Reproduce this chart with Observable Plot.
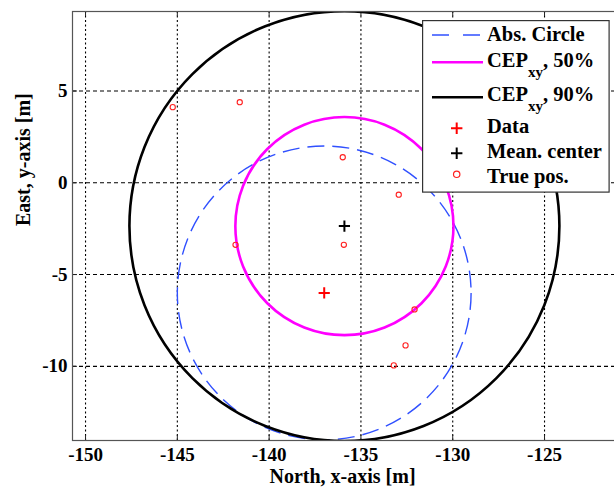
<!DOCTYPE html>
<html><head><meta charset="utf-8">
<script src="https://cdn.jsdelivr.net/npm/d3@7"></script>
<script src="https://cdn.jsdelivr.net/npm/@observablehq/plot@0.6"></script>
<style>
html,body{margin:0;padding:0;background:#fff;}
#wrap{position:relative;width:614px;height:488px;overflow:hidden;}
#legend{position:absolute;left:422px;top:20px;font-family:'Liberation Serif',serif;font-weight:bold;}
</style></head><body>
<div id="wrap"><div id="chart"></div>
<svg id="legend" width="188" height="173"></svg></div>
<script>
// ---- data ----
const xTicks = [-150, -145, -140, -135, -130, -125];
const yTicks = [-10, -5, 0, 5];
const xDomain = [-150.71, -121.08];
const yDomain = [-14.04, 9.33];

const circleNames = ["Abs. Circle", "CEP_xy, 50%", "CEP_xy, 90%"];
const circleCenterX = [-137.0, -135.9, -135.9];
const circleCenterY = [-6.0, -2.36, -2.36];
const circleRadius = [8.0, 5.94, 11.71];

const dataX = [-137.0];
const dataY = [-6.0];
const meanX = [-135.9];
const meanY = [-2.36];
const trueX = [-145.25, -141.60, -135.99, -132.94, -141.83, -135.93, -132.08, -132.57, -133.21];
const trueY = [4.12, 4.39, 1.39, -0.65, -3.38, -3.38, -6.90, -8.86, -9.95];

// ---- layout ----
const W = 614, H = 488, mL = 72, mR = -2, mT = 11, mB = 48;
const pxPerM = (W - mL - mR) / (xDomain[1] - xDomain[0]);
const tickLen = 5 / pxPerM;

const circleStyles = [
  {stroke: "#3050ff", strokeWidth: 1.4, strokeDasharray: "17,8"},
  {stroke: "#ff00ff", strokeWidth: 2.6},
  {stroke: "#000000", strokeWidth: 2.6}
];

const truePts = trueX.map((x, i) => ({x, y: trueY[i]}));
const dataPts = dataX.map((x, i) => ({x, y: dataY[i]}));
const meanPts = meanX.map((x, i) => ({x, y: meanY[i]}));

const circleMarks = circleNames.map((name, i) => Plot.dot([i], {
  x: j => circleCenterX[j], y: j => circleCenterY[j], r: j => circleRadius[j],
  fill: "none", clip: true, ...circleStyles[i]
}));

const chart = Plot.plot({
  width: W, height: H,
  marginLeft: mL, marginRight: mR, marginTop: mT, marginBottom: mB,
  style: {fontFamily: "'Liberation Serif', serif", fontSize: "19px", fontWeight: "bold", color: "#000", background: "#fff"},
  x: {domain: xDomain},
  y: {domain: yDomain},
  r: {type: "linear", domain: [0, 10], range: [0, 10 * pxPerM]},
  marks: [
    Plot.gridX(xTicks, {stroke: "#000", strokeOpacity: 1, strokeWidth: 1.1, strokeDasharray: "2,2.5"}),
    Plot.gridY(yTicks, {stroke: "#000", strokeOpacity: 1, strokeWidth: 1.1, strokeDasharray: "4,3"}),
    Plot.ruleX(xTicks, {x: d => d, y1: yDomain[0], y2: yDomain[0] + tickLen, stroke: "#222"}),
    Plot.ruleX(xTicks, {x: d => d, y1: yDomain[1] - tickLen, y2: yDomain[1], stroke: "#222"}),
    Plot.ruleY(yTicks, {y: d => d, x1: xDomain[0], x2: xDomain[0] + tickLen, stroke: "#222"}),
    ...circleMarks,
    Plot.dot(truePts, {x: "x", y: "y", r: 2.6, stroke: "#ff2020", strokeWidth: 1.1, fill: "none"}),
    Plot.dot(dataPts, {x: "x", y: "y", symbol: "plus", r: 3.7, stroke: "#ff0000", strokeWidth: 2}),
    Plot.dot(meanPts, {x: "x", y: "y", symbol: "plus", r: 3.7, stroke: "#000", strokeWidth: 2}),
    Plot.axisX({ticks: xTicks, anchor: "bottom", tickSize: 0, tickPadding: 7, tickFormat: d => String(d), label: null}),
    Plot.axisY({ticks: yTicks, anchor: "left", tickSize: 0, tickPadding: 5, tickFormat: d => String(d), label: null}),
    Plot.frame({stroke: "#555", strokeWidth: 1.2}),
    Plot.text(["North, x-axis [m]"], {text: d => d, frameAnchor: "bottom", dx: -2, dy: 42, lineAnchor: "bottom", fontSize: 20, fontWeight: "bold"}),
    Plot.text(["East, y-axis [m]"], {text: d => d, frameAnchor: "left", dx: -43, rotate: -90, lineAnchor: "bottom", fontSize: 20, fontWeight: "bold"})
  ]
});
document.getElementById("chart").appendChild(chart);

// ---- legend (inside the axes, upper right) ----
const lg = d3.select("#legend");
lg.append("rect").attr("x", 0.6).attr("y", 0.6).attr("width", 186.5).attr("height", 171.5)
  .attr("fill", "#fff").attr("stroke", "#333").attr("stroke-width", 1.2);
const rows = [
  {type: "line", y: 15, base: 21, stroke: circleStyles[0].stroke, w: 1.4, dash: "17,14", label: circleNames[0]},
  {type: "line", y: 42.3, base: 46.7, stroke: circleStyles[1].stroke, w: 2.6, label: circleNames[1]},
  {type: "line", y: 77.3, base: 80.7, stroke: circleStyles[2].stroke, w: 2.6, label: circleNames[2]},
  {type: "plus", y: 108.3, base: 113.3, stroke: "#ff0000", label: "Data"},
  {type: "plus", y: 133.3, base: 138.3, stroke: "#000", label: "Mean. center"},
  {type: "circle", y: 154.3, base: 163.3, stroke: "#ff2020", label: "True pos."}
];
for (const r of rows) {
  if (r.type === "line") {
    lg.append("line").attr("x1", 10).attr("x2", 61).attr("y1", r.y).attr("y2", r.y)
      .attr("stroke", r.stroke).attr("stroke-width", r.w).attr("stroke-dasharray", r.dash || null);
  } else if (r.type === "plus") {
    lg.append("path").attr("d", `M29,${r.y}H40.4M34.7,${r.y - 5.7}V${r.y + 5.7}`)
      .attr("stroke", r.stroke).attr("stroke-width", 2).attr("fill", "none");
  } else {
    lg.append("circle").attr("cx", 34.7).attr("cy", r.y).attr("r", 3.2)
      .attr("stroke", r.stroke).attr("stroke-width", 1.2).attr("fill", "none");
  }
  const t = lg.append("text").attr("x", 65).attr("y", r.base).attr("font-size", 20.5);
  const m = r.label.match(/^(.*)_(\w+)(.*)$/);
  if (m) {
    t.append("tspan").text(m[1]);
    t.append("tspan").attr("dy", 10).attr("font-size", 15).text(m[2]);
    t.append("tspan").attr("dy", -10).text(m[3]);
  } else {
    t.text(r.label);
  }
}
</script>
</body></html>
